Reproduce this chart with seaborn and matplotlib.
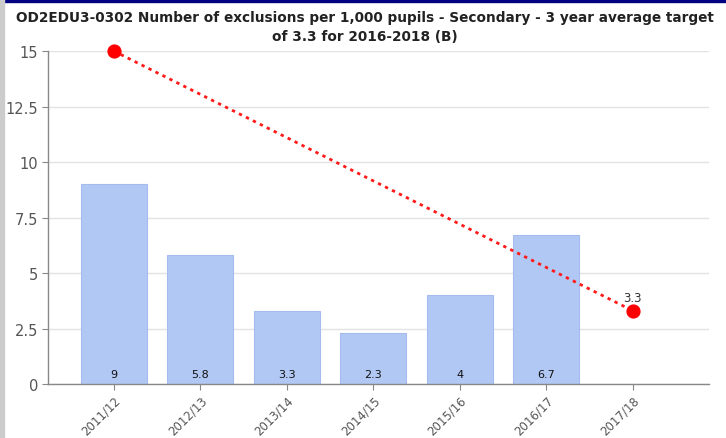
import numpy as np
import matplotlib
matplotlib.use("Agg")
import matplotlib.pyplot as plt
import seaborn as sns
from matplotlib.patches import Rectangle

# data
years = ["2011/12", "2012/13", "2013/14", "2014/15", "2015/16", "2016/17", "2017/18"]
rates = [9, 5.8, 3.3, 2.3, 4, 6.7, np.nan]
target_years = ["2011/12", "2017/18"]
target_vals = [15, 3.3]
y_ticks = [0, 2.5, 5, 7.5, 10, 12.5, 15]
y_tick_labels = ["0", "2.5", "5", "7.5", "10", "12.5", "15"]

sns.set_style("white")
plt.rcParams["font.family"] = ["DejaVu Sans"]

fig = plt.figure(figsize=(7.26, 4.39), dpi=100)
ax = fig.add_axes([0.0661, 0.123, 0.9105, 0.7585])

# frame bits of the original widget
fig.patches.append(Rectangle((0, 1 - 3 / 439), 1, 3 / 439, transform=fig.transFigure,
                             color="#000080", zorder=10))
fig.patches.append(Rectangle((0, 0), 4 / 726, 1, transform=fig.transFigure,
                             color="#cccccc", zorder=10))

bar_df = {"year": years, "rate": rates}
sns.barplot(x="year", y="rate", data=bar_df, order=years, color="#b1c8f4",
            edgecolor="#a3bbed", linewidth=0.8, width=0.76, saturation=1, ax=ax, zorder=2)

# value labels at the foot of each bar
for i, v in enumerate(rates):
    if not np.isnan(v):
        ax.text(i, 0.22, f"{v:g}", ha="center", va="bottom", fontsize=8, color="#111111", zorder=4)

# target line
tx = [years.index(y) for y in target_years]
ax.plot(tx, target_vals, color="#ff1a1a", linestyle=(0, (1.2, 1.6)), linewidth=2, zorder=5)
ax.scatter(tx, target_vals, s=85, color="#ff0000", zorder=6, clip_on=False)
ax.text(tx[-1], target_vals[-1] + 0.3, f"{target_vals[-1]:g}", ha="center", va="bottom",
        fontsize=8.5, color="#333333", zorder=6)

ax.set_xlim(-0.76, 6.88)
ax.set_ylim(0, 15)
ax.set_yticks(y_ticks)
ax.set_yticklabels(y_tick_labels)
ax.yaxis.grid(True, color="#e3e3e3", linewidth=1, zorder=0)
ax.set_axisbelow(True)
ax.set_xlabel("")
ax.set_ylabel("")

for s in ["top", "right"]:
    ax.spines[s].set_visible(False)
for s in ["left", "bottom"]:
    ax.spines[s].set_color("#888888")
    ax.spines[s].set_linewidth(1)

ax.tick_params(axis="y", length=4, color="#888888", labelcolor="#555555", labelsize=10.5, pad=3, left=True)
ax.tick_params(axis="x", length=4, color="#888888", labelcolor="#555555", labelsize=8.5, pad=3, bottom=True)
plt.setp(ax.get_xticklabels(), rotation=45, ha="right", rotation_mode="anchor")

fig.text(0.503, 0.975, "OD2EDU3-0302 Number of exclusions per 1,000 pupils - Secondary - 3 year average target\nof 3.3 for 2016-2018 (B)",
         ha="center", va="top", fontsize=9.8, fontweight="bold", color="#222222", linespacing=1.5)

fig.savefig("out.png", dpi=100)
